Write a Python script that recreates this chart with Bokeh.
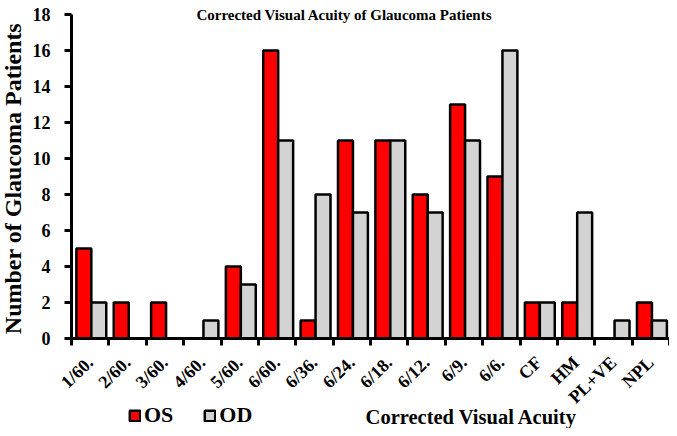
import math
from bokeh.plotting import figure
from bokeh.models import (Range1d, FixedTicker, Label, Legend, LegendItem,
                          ColumnDataSource)
from bokeh.transform import dodge
from bokeh.embed import file_html
from bokeh.resources import INLINE

# ---- data ----
categories = ["1/60.", "2/60.", "3/60.", "4/60.", "5/60.", "6/60.", "6/36.",
              "6/24.", "6/18.", "6/12.", "6/9.", "6/6.", "CF", "HM", "PL+VE", "NPL"]
os_values = [5, 2, 2, 0, 4, 16, 1, 11, 11, 8, 13, 9, 2, 2, 0, 2]
od_values = [2, 0, 0, 1, 3, 11, 8, 7, 11, 7, 11, 16, 2, 7, 1, 1]
y_ticks = [0, 2, 4, 6, 8, 10, 12, 14, 16, 18]
series_names = ["OS", "OD"]

FONT = "Liberation Serif"
n = len(categories)
positions = list(range(1, n + 1))

# the frame covers the whole canvas; both axes are pinned inside it
p = figure(width=669, height=428, output_backend="svg", toolbar_location=None,
           x_range=Range1d(-1.40, n + 0.5), y_range=Range1d(-5.0, 18.78),
           min_border_left=0, min_border_right=0, min_border_top=0,
           min_border_bottom=0)
p.outline_line_color = None
p.xgrid.grid_line_color = None
p.ygrid.grid_line_color = None
p.background_fill_color = "white"
p.border_fill_color = "white"

src = ColumnDataSource(dict(x=positions, os=os_values, od=od_values))
w = 0.40
r_os = p.vbar(x=dodge("x", -0.17, range=p.x_range), top="os", bottom=0, width=w,
              source=src, fill_color="#FF0000", line_color="black", line_width=2.5)
r_od = p.vbar(x=dodge("x", 0.23, range=p.x_range), top="od", bottom=0, width=w,
              source=src, fill_color="#D3D3D3", line_color="black", line_width=2.5)

# y axis
ya = p.yaxis[0]
ya.fixed_location = 0.5
ya.ticker = FixedTicker(ticks=y_ticks, minor_ticks=[])
ya.bounds = (0, 18)
ya.axis_line_width = 3
ya.axis_line_color = "black"
ya.major_tick_line_width = 3
ya.major_tick_out = 7
ya.major_tick_in = 0
ya.minor_tick_line_color = None
ya.major_label_text_font = FONT
ya.major_label_text_font_style = "bold"
ya.major_label_text_font_size = "18px"
ya.major_label_text_color = "black"
ya.major_label_standoff = 14

# x axis
xa = p.xaxis[0]
xa.fixed_location = 0
xa.bounds = (0.5, n + 0.5)
xa.ticker = FixedTicker(ticks=positions,
                        minor_ticks=[i + 0.5 for i in range(n + 1)])
xa.major_label_overrides = {pos: c for pos, c in zip(positions, categories)}
xa.axis_line_width = 3
xa.axis_line_color = "black"
xa.major_tick_line_color = None
xa.major_tick_out = 0
xa.major_tick_in = 0
xa.minor_tick_line_width = 3
xa.minor_tick_line_color = "black"
xa.minor_tick_out = 7
xa.minor_tick_in = 0
xa.major_label_orientation = math.radians(44)
xa.major_label_text_font = FONT
xa.major_label_text_font_style = "bold"
xa.major_label_text_font_size = "18px"
xa.major_label_text_color = "black"
xa.major_label_standoff = 14

# titles
p.add_layout(Label(x=344, y=414, x_units="screen", y_units="screen",
                   text="Corrected Visual Acuity of Glaucoma Patients",
                   text_font=FONT, text_font_style="bold", text_font_size="15px",
                   text_align="center", text_baseline="alphabetic", text_color="black"))
p.add_layout(Label(x=12, y=250, x_units="screen", y_units="screen",
                   angle=math.pi / 2,
                   text="Number of Glaucoma Patients",
                   text_font=FONT, text_font_style="bold", text_font_size="24px",
                   text_align="center", text_baseline="middle", text_color="black"))
p.add_layout(Label(x=471, y=12, x_units="screen", y_units="screen",
                   text="Corrected Visual Acuity",
                   text_font=FONT, text_font_style="bold", text_font_size="20.5px",
                   text_align="center", text_baseline="alphabetic", text_color="black"))

legend = Legend(items=[LegendItem(label=series_names[0], renderers=[r_os]),
                       LegendItem(label=series_names[1], renderers=[r_od])],
                location=(128, 0), orientation="horizontal",
                glyph_width=13, glyph_height=13, label_standoff=3, spacing=30,
                padding=0, margin=0, border_line_color=None,
                background_fill_alpha=0,
                label_text_font=FONT, label_text_font_style="bold",
                label_text_font_size="22px", label_text_color="black")
p.add_layout(legend, "center")

open("out.html", "w").write(file_html(p, INLINE))
